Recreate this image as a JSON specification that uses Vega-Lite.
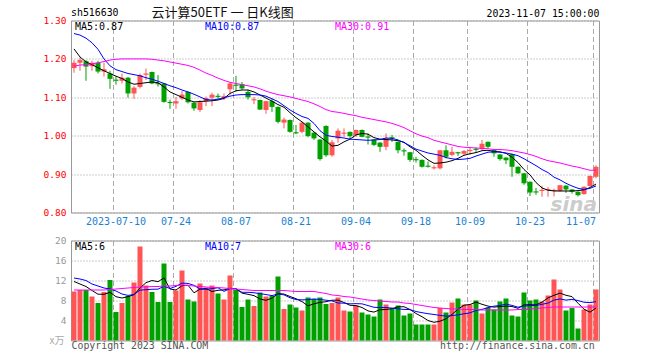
{
"$schema": "https://vega.github.io/schema/vega-lite/v6.json",
"background": "white",
"autosize": {"type": "pad"},
"padding": {"left": 42, "top": 5.5, "right": 2, "bottom": 2},
"config": {
  "view": {"stroke": "#999999", "strokeWidth": 1},
  "axis": {"labelFont": "DejaVu Sans Mono", "titleFont": "DejaVu Sans Mono", "labelOverlap": false},
  "axisY": {"labelOverlap": false},
  "legend": {"labelFont": "DejaVu Sans Mono"}
},
"title": {"text": "2023-11-07 15:00:00", "anchor": "end", "font": "DejaVu Sans Mono", "fontSize": 9.9, "fontWeight": "normal", "color": "#000000", "offset": 0, "dy": 13},
"bounds": "flush",
"spacing": 28,
"resolve": {"scale": {"color": "independent", "y": "independent"}, "legend": {"color": "independent"}},
"datasets": {"k": [
{"d":"2023-06-29","o":1.176,"h":1.197,"l":1.164,"c":1.190,"v":9.8,"m5":1.226,"m10":1.266,"m30":1.181,"v5":11.8,"v10":12.5,"v30":10.1},
{"d":"2023-06-30","o":1.190,"h":1.204,"l":1.169,"c":1.197,"v":10.1,"m5":1.205,"m10":1.262,"m30":1.184,"v5":11.3,"v10":12.3,"v30":10.1},
{"d":"2023-07-03","o":1.194,"h":1.197,"l":1.143,"c":1.180,"v":10.1,"m5":1.192,"m10":1.254,"m30":1.185,"v5":10.8,"v10":12.0,"v30":10.1},
{"d":"2023-07-04","o":1.181,"h":1.195,"l":1.169,"c":1.190,"v":8.8,"m5":1.185,"m10":1.242,"m30":1.187,"v5":10.0,"v10":11.3,"v30":10.1},
{"d":"2023-07-05","o":1.190,"h":1.195,"l":1.162,"c":1.167,"v":7.5,"m5":1.177,"m10":1.225,"m30":1.190,"v5":9.26,"v10":10.9,"v30":10.1},
{"d":"2023-07-06","o":1.167,"h":1.190,"l":1.154,"c":1.173,"v":9.7,"m5":1.169,"m10":1.200,"m30":1.193,"v5":9.24,"v10":10.5,"v30":10.1},
{"d":"2023-07-07","o":1.162,"h":1.169,"l":1.122,"c":1.148,"v":12.1,"m5":1.162,"m10":1.182,"m30":1.197,"v5":9.64,"v10":10.3,"v30":10.2},
{"d":"2023-07-10","o":1.146,"h":1.155,"l":1.133,"c":1.143,"v":5.7,"m5":1.155,"m10":1.172,"m30":1.199,"v5":8.76,"v10":9.9,"v30":10.3},
{"d":"2023-07-11","o":1.143,"h":1.162,"l":1.136,"c":1.151,"v":7.5,"m5":1.149,"m10":1.167,"m30":1.200,"v5":8.5,"v10":9.3,"v30":10.4},
{"d":"2023-07-12","o":1.151,"h":1.153,"l":1.099,"c":1.110,"v":8.9,"m5":1.140,"m10":1.162,"m30":1.200,"v5":8.78,"v10":9.02,"v30":10.5},
{"d":"2023-07-13","o":1.110,"h":1.129,"l":1.096,"c":1.125,"v":11.6,"m5":1.134,"m10":1.159,"m30":1.200,"v5":9.16,"v10":9.2,"v30":10.6},
{"d":"2023-07-14","o":1.127,"h":1.162,"l":1.123,"c":1.158,"v":18.8,"m5":1.136,"m10":1.156,"m30":1.200,"v5":10.5,"v10":10.07,"v30":10.7},
{"d":"2023-07-17","o":1.159,"h":1.175,"l":1.145,"c":1.162,"v":11.0,"m5":1.138,"m10":1.151,"m30":1.200,"v5":11.56,"v10":10.16,"v30":10.7},
{"d":"2023-07-18","o":1.166,"h":1.167,"l":1.134,"c":1.136,"v":9.7,"m5":1.140,"m10":1.147,"m30":1.199,"v5":12.0,"v10":10.25,"v30":10.8},
{"d":"2023-07-19","o":1.137,"h":1.158,"l":1.128,"c":1.134,"v":7.7,"m5":1.138,"m10":1.142,"m30":1.197,"v5":11.76,"v10":10.27,"v30":10.8},
{"d":"2023-07-20","o":1.136,"h":1.137,"l":1.086,"c":1.088,"v":15.4,"m5":1.127,"m10":1.136,"m30":1.195,"v5":12.52,"v10":10.84,"v30":10.9},
{"d":"2023-07-21","o":1.088,"h":1.094,"l":1.070,"c":1.085,"v":7.7,"m5":1.114,"m10":1.130,"m30":1.192,"v5":10.3,"v10":10.4,"v30":10.9},
{"d":"2023-07-24","o":1.084,"h":1.101,"l":1.070,"c":1.090,"v":10.0,"m5":1.107,"m10":1.125,"m30":1.189,"v5":10.1,"v10":10.83,"v30":11.0},
{"d":"2023-07-25","o":1.097,"h":1.116,"l":1.093,"c":1.107,"v":14.0,"m5":1.100,"m10":1.119,"m30":1.186,"v5":10.96,"v10":11.48,"v30":11.1},
{"d":"2023-07-26","o":1.114,"h":1.115,"l":1.084,"c":1.087,"v":8.2,"m5":1.093,"m10":1.114,"m30":1.183,"v5":11.06,"v10":11.41,"v30":11.0},
{"d":"2023-07-27","o":1.086,"h":1.087,"l":1.065,"c":1.071,"v":7.8,"m5":1.088,"m10":1.108,"m30":1.178,"v5":9.54,"v10":11.03,"v30":10.9},
{"d":"2023-07-28","o":1.067,"h":1.093,"l":1.062,"c":1.087,"v":11.4,"m5":1.089,"m10":1.101,"m30":1.171,"v5":10.28,"v10":10.29,"v30":10.8},
{"d":"2023-07-31","o":1.090,"h":1.102,"l":1.077,"c":1.098,"v":10.6,"m5":1.090,"m10":1.094,"m30":1.163,"v5":10.4,"v10":10.25,"v30":10.7},
{"d":"2023-08-01","o":1.099,"h":1.112,"l":1.077,"c":1.107,"v":11.0,"m5":1.091,"m10":1.093,"m30":1.157,"v5":9.8,"v10":10.38,"v30":10.6},
{"d":"2023-08-02","o":1.104,"h":1.110,"l":1.095,"c":1.101,"v":9.4,"m5":1.093,"m10":1.095,"m30":1.150,"v5":10.04,"v10":10.55,"v30":10.6},
{"d":"2023-08-03","o":1.097,"h":1.110,"l":1.093,"c":1.103,"v":8.2,"m5":1.097,"m10":1.099,"m30":1.144,"v5":10.12,"v10":9.83,"v30":10.5},
{"d":"2023-08-04","o":1.121,"h":1.140,"l":1.107,"c":1.136,"v":13.0,"m5":1.110,"m10":1.103,"m30":1.139,"v5":10.44,"v10":10.36,"v30":10.4},
{"d":"2023-08-07","o":1.133,"h":1.156,"l":1.115,"c":1.130,"v":10.1,"m5":1.117,"m10":1.106,"m30":1.136,"v5":10.34,"v10":10.37,"v30":10.3},
{"d":"2023-08-08","o":1.134,"h":1.140,"l":1.119,"c":1.123,"v":6.7,"m5":1.119,"m10":1.107,"m30":1.133,"v5":9.48,"v10":9.64,"v30":10.2},
{"d":"2023-08-09","o":1.114,"h":1.120,"l":1.094,"c":1.100,"v":8.2,"m5":1.119,"m10":1.107,"m30":1.130,"v5":9.24,"v10":9.64,"v30":10.1},
{"d":"2023-08-10","o":1.092,"h":1.101,"l":1.082,"c":1.095,"v":6.9,"m5":1.114,"m10":1.107,"m30":1.127,"v5":8.98,"v10":9.55,"v30":10.0},
{"d":"2023-08-11","o":1.093,"h":1.094,"l":1.067,"c":1.068,"v":9.6,"m5":1.106,"m10":1.106,"m30":1.122,"v5":8.3,"v10":9.37,"v30":10.0},
{"d":"2023-08-14","o":1.067,"h":1.090,"l":1.057,"c":1.090,"v":8.8,"m5":1.098,"m10":1.103,"m30":1.116,"v5":8.04,"v10":9.19,"v30":10.0},
{"d":"2023-08-15","o":1.090,"h":1.097,"l":1.062,"c":1.075,"v":8.9,"m5":1.090,"m10":1.096,"m30":1.111,"v5":8.48,"v10":8.98,"v30":10.0},
{"d":"2023-08-16","o":1.075,"h":1.076,"l":1.032,"c":1.036,"v":12.8,"m5":1.081,"m10":1.089,"m30":1.107,"v5":9.4,"v10":9.32,"v30":10.0},
{"d":"2023-08-17","o":1.034,"h":1.047,"l":1.019,"c":1.042,"v":6.3,"m5":1.074,"m10":1.078,"m30":1.104,"v5":9.28,"v10":9.13,"v30":10.0},
{"d":"2023-08-18","o":1.041,"h":1.042,"l":1.008,"c":1.010,"v":7.2,"m5":1.060,"m10":1.067,"m30":1.101,"v5":8.8,"v10":8.55,"v30":9.9},
{"d":"2023-08-21","o":1.009,"h":1.028,"l":1.004,"c":1.006,"v":6.6,"m5":1.047,"m10":1.058,"m30":1.097,"v5":8.36,"v10":8.2,"v30":9.8},
{"d":"2023-08-22","o":1.010,"h":1.036,"l":1.006,"c":1.034,"v":6.0,"m5":1.036,"m10":1.050,"m30":1.093,"v5":7.78,"v10":8.13,"v30":9.8},
{"d":"2023-08-23","o":1.034,"h":1.035,"l":0.996,"c":0.999,"v":8.6,"m5":1.023,"m10":1.045,"m30":1.089,"v5":6.94,"v10":8.17,"v30":9.8},
{"d":"2023-08-24","o":1.008,"h":1.009,"l":0.989,"c":0.993,"v":8.3,"m5":1.010,"m10":1.032,"m30":1.083,"v5":7.34,"v10":8.31,"v30":9.8},
{"d":"2023-08-25","o":0.990,"h":0.991,"l":0.935,"c":0.939,"v":8.6,"m5":0.997,"m10":1.013,"m30":1.076,"v5":7.62,"v10":8.21,"v30":9.6},
{"d":"2023-08-28","o":1.025,"h":1.027,"l":0.945,"c":0.949,"v":7.3,"m5":0.986,"m10":1.001,"m30":1.068,"v5":7.76,"v10":8.06,"v30":9.4},
{"d":"2023-08-29","o":0.949,"h":0.989,"l":0.945,"c":0.983,"v":7.5,"m5":0.973,"m10":0.998,"m30":1.063,"v5":8.06,"v10":7.92,"v30":9.1},
{"d":"2023-08-30","o":0.993,"h":1.019,"l":0.982,"c":1.013,"v":8.6,"m5":0.975,"m10":0.996,"m30":1.061,"v5":8.06,"v10":7.5,"v30":9.0},
{"d":"2023-08-31","o":1.005,"h":1.019,"l":0.997,"c":1.008,"v":6.0,"m5":0.984,"m10":0.994,"m30":1.058,"v5":7.6,"v10":7.47,"v30":8.8},
{"d":"2023-09-01","o":1.010,"h":1.011,"l":0.990,"c":0.999,"v":5.8,"m5":0.991,"m10":0.991,"m30":1.055,"v5":7.04,"v10":7.33,"v30":8.7},
{"d":"2023-09-04","o":1.002,"h":1.016,"l":0.997,"c":1.015,"v":7.0,"m5":1.002,"m10":0.990,"m30":1.052,"v5":6.98,"v10":7.37,"v30":8.5},
{"d":"2023-09-05","o":1.015,"h":1.016,"l":0.996,"c":0.997,"v":5.6,"m5":1.006,"m10":0.989,"m30":1.048,"v5":6.6,"v10":7.33,"v30":8.3},
{"d":"2023-09-06","o":0.998,"h":1.006,"l":0.977,"c":0.995,"v":5.2,"m5":1.004,"m10":0.988,"m30":1.045,"v5":5.92,"v10":6.99,"v30":8.1},
{"d":"2023-09-07","o":0.990,"h":0.991,"l":0.973,"c":0.976,"v":4.8,"m5":0.995,"m10":0.989,"m30":1.042,"v5":5.68,"v10":6.64,"v30":8.0},
{"d":"2023-09-08","o":0.982,"h":0.983,"l":0.958,"c":0.971,"v":8.2,"m5":0.991,"m10":0.990,"m30":1.039,"v5":6.16,"v10":6.6,"v30":7.9},
{"d":"2023-09-11","o":0.971,"h":1.006,"l":0.962,"c":0.993,"v":7.2,"m5":0.990,"m10":0.994,"m30":1.036,"v5":6.2,"v10":6.59,"v30":7.8},
{"d":"2023-09-12","o":0.996,"h":1.002,"l":0.984,"c":0.993,"v":6.4,"m5":0.989,"m10":0.993,"m30":1.032,"v5":6.36,"v10":6.48,"v30":7.7},
{"d":"2023-09-13","o":0.984,"h":0.985,"l":0.954,"c":0.962,"v":7.0,"m5":0.987,"m10":0.989,"m30":1.027,"v5":6.72,"v10":6.32,"v30":7.7},
{"d":"2023-09-14","o":0.962,"h":0.967,"l":0.948,"c":0.959,"v":5.0,"m5":0.983,"m10":0.982,"m30":1.021,"v5":6.76,"v10":6.22,"v30":7.5},
{"d":"2023-09-15","o":0.957,"h":0.958,"l":0.932,"c":0.937,"v":5.4,"m5":0.971,"m10":0.974,"m30":1.013,"v5":6.2,"v10":6.18,"v30":7.4},
{"d":"2023-09-18","o":0.939,"h":0.945,"l":0.930,"c":0.936,"v":3.2,"m5":0.962,"m10":0.965,"m30":1.005,"v5":5.4,"v10":5.8,"v30":7.2},
{"d":"2023-09-19","o":0.937,"h":0.938,"l":0.917,"c":0.919,"v":3.2,"m5":0.949,"m10":0.960,"m30":0.999,"v5":4.76,"v10":5.56,"v30":7.0},
{"d":"2023-09-20","o":0.922,"h":0.933,"l":0.917,"c":0.919,"v":3.2,"m5":0.937,"m10":0.955,"m30":0.995,"v5":4.0,"v10":5.36,"v30":6.8},
{"d":"2023-09-21","o":0.915,"h":0.923,"l":0.912,"c":0.918,"v":3.2,"m5":0.928,"m10":0.952,"m30":0.988,"v5":3.64,"v10":5.2,"v30":6.6},
{"d":"2023-09-22","o":0.915,"h":0.963,"l":0.912,"c":0.962,"v":6.5,"m5":0.929,"m10":0.949,"m30":0.984,"v5":3.86,"v10":5.03,"v30":6.5},
{"d":"2023-09-25","o":0.962,"h":0.975,"l":0.941,"c":0.945,"v":5.6,"m5":0.931,"m10":0.943,"m30":0.980,"v5":4.34,"v10":4.87,"v30":6.4},
{"d":"2023-09-26","o":0.950,"h":0.971,"l":0.946,"c":0.958,"v":7.6,"m5":0.935,"m10":0.940,"m30":0.976,"v5":5.22,"v10":4.99,"v30":6.3},
{"d":"2023-09-27","o":0.957,"h":0.958,"l":0.947,"c":0.954,"v":8.4,"m5":0.941,"m10":0.938,"m30":0.972,"v5":6.26,"v10":5.13,"v30":6.3},
{"d":"2023-09-28","o":0.953,"h":0.963,"l":0.949,"c":0.960,"v":7.2,"m5":0.949,"m10":0.939,"m30":0.970,"v5":7.06,"v10":5.35,"v30":6.2},
{"d":"2023-10-09","o":0.960,"h":0.969,"l":0.950,"c":0.963,"v":7.2,"m5":0.953,"m10":0.941,"m30":0.969,"v5":7.2,"v10":5.53,"v30":6.2},
{"d":"2023-10-10","o":0.966,"h":0.969,"l":0.955,"c":0.963,"v":8.0,"m5":0.956,"m10":0.947,"m30":0.968,"v5":7.68,"v10":6.01,"v30":6.2},
{"d":"2023-10-11","o":0.965,"h":0.989,"l":0.962,"c":0.979,"v":5.4,"m5":0.961,"m10":0.952,"m30":0.967,"v5":7.24,"v10":6.23,"v30":6.1},
{"d":"2023-10-12","o":0.984,"h":0.985,"l":0.968,"c":0.971,"v":6.6,"m5":0.962,"m10":0.957,"m30":0.966,"v5":6.88,"v10":6.57,"v30":6.1},
{"d":"2023-10-13","o":0.963,"h":0.964,"l":0.945,"c":0.954,"v":6.2,"m5":0.959,"m10":0.958,"m30":0.964,"v5":6.68,"v10":6.87,"v30":6.1},
{"d":"2023-10-16","o":0.951,"h":0.952,"l":0.935,"c":0.939,"v":7.8,"m5":0.958,"m10":0.957,"m30":0.964,"v5":6.8,"v10":7.0,"v30":6.1},
{"d":"2023-10-17","o":0.943,"h":0.944,"l":0.926,"c":0.936,"v":8.4,"m5":0.954,"m10":0.955,"m30":0.963,"v5":6.88,"v10":7.28,"v30":6.1},
{"d":"2023-10-18","o":0.952,"h":0.953,"l":0.893,"c":0.919,"v":5.0,"m5":0.944,"m10":0.952,"m30":0.961,"v5":6.8,"v10":7.02,"v30":6.1},
{"d":"2023-10-19","o":0.919,"h":0.920,"l":0.900,"c":0.902,"v":4.8,"m5":0.930,"m10":0.948,"m30":0.958,"v5":6.44,"v10":6.66,"v30":6.2},
{"d":"2023-10-20","o":0.902,"h":0.903,"l":0.872,"c":0.876,"v":9.6,"m5":0.912,"m10":0.940,"m30":0.955,"v5":7.12,"v10":6.9,"v30":6.2},
{"d":"2023-10-23","o":0.880,"h":0.881,"l":0.843,"c":0.852,"v":8.0,"m5":0.898,"m10":0.931,"m30":0.951,"v5":7.16,"v10":6.98,"v30":6.3},
{"d":"2023-10-24","o":0.855,"h":0.864,"l":0.846,"c":0.852,"v":8.2,"m5":0.878,"m10":0.922,"m30":0.946,"v5":7.12,"v10":7.0,"v30":6.4},
{"d":"2023-10-25","o":0.856,"h":0.870,"l":0.841,"c":0.859,"v":7.8,"m5":0.864,"m10":0.912,"m30":0.940,"v5":7.68,"v10":7.24,"v30":6.5},
{"d":"2023-10-26","o":0.858,"h":0.866,"l":0.841,"c":0.861,"v":9.0,"m5":0.858,"m10":0.904,"m30":0.935,"v5":8.52,"v10":7.48,"v30":6.6},
{"d":"2023-10-27","o":0.856,"h":0.862,"l":0.842,"c":0.859,"v":12.2,"m5":0.856,"m10":0.892,"m30":0.932,"v5":9.04,"v10":8.08,"v30":6.7},
{"d":"2023-10-30","o":0.856,"h":0.872,"l":0.854,"c":0.871,"v":10.2,"m5":0.856,"m10":0.885,"m30":0.929,"v5":9.48,"v10":8.32,"v30":6.7},
{"d":"2023-10-31","o":0.870,"h":0.871,"l":0.851,"c":0.860,"v":6.0,"m5":0.856,"m10":0.876,"m30":0.925,"v5":9.04,"v10":8.08,"v30":6.7},
{"d":"2023-11-01","o":0.860,"h":0.861,"l":0.849,"c":0.854,"v":6.5,"m5":0.856,"m10":0.869,"m30":0.921,"v5":8.78,"v10":8.23,"v30":6.7},
{"d":"2023-11-02","o":0.854,"h":0.855,"l":0.842,"c":0.845,"v":2.4,"m5":0.857,"m10":0.863,"m30":0.918,"v5":7.46,"v10":7.99,"v30":6.7},
{"d":"2023-11-03","o":0.848,"h":0.868,"l":0.846,"c":0.867,"v":6.2,"m5":0.859,"m10":0.860,"m30":0.914,"v5":6.26,"v10":7.65,"v30":6.7},
{"d":"2023-11-06","o":0.869,"h":0.897,"l":0.867,"c":0.895,"v":7.2,"m5":0.865,"m10":0.863,"m30":0.910,"v5":5.66,"v10":7.57,"v30":6.7},
{"d":"2023-11-07","o":0.893,"h":0.923,"l":0.889,"c":0.919,"v":10.2,"m5":0.874,"m10":0.869,"m30":0.910,"v5":6.5,"v10":7.77,"v30":6.7}
]},
"vconcat": [
{
  "width": 528,
  "height": 192,
  "data": {"name": "k"},
  "title": {"text": "sh516630", "anchor": "start", "frame": "group", "font": "DejaVu Sans Mono", "fontSize": 9.9, "fontWeight": "normal", "color": "#000000", "offset": 2, "dy": 13.5},
  "resolve": {"axis": {"y": "independent"}},
  "encoding": {
    "x": {"field": "d", "type": "ordinal", "scale": {"type": "band", "paddingInner": 0.1667, "paddingOuter": 0.0833},
      "axis": {"values": ["2023-07-10","2023-07-24","2023-08-07","2023-08-21","2023-09-04","2023-09-18","2023-10-09","2023-10-23","2023-11-07"],
        "bandPosition": 0, "labelExpr": "datum.value == '2023-07-10' ? datum.value : slice(datum.value, 5)",
        "labelAlign": {"condition": {"test": "datum.value == '2023-11-07'", "value": "right"}, "value": "center"},
        "labelAngle": 0, "labelColor": "#1a82d0", "labelFont": "DejaVu Sans Mono", "labelFontSize": 10, "labelPadding": 4,
        "labelFlush": false, "labelOverlap": false, "ticks": false, "domain": false,
        "grid": true, "gridColor": "#aaaaaa", "gridDash": [5, 3], "gridWidth": 1,
        "title": "sina", "titleX": 479, "titleY": -2.5, "titleAlign": "left", "titleBaseline": "alphabetic",
        "titleFont": "DejaVu Sans", "titleFontSize": 20, "titleFontStyle": "italic", "titleFontWeight": "bold", "titleColor": "#cccccc"}}
  },
  "layer": [
    {"mark": {"type": "rule", "strokeWidth": 1},
     "encoding": {
       "y": {"field": "l", "type": "quantitative", "scale": {"domain": [0.8, 1.3], "zero": false, "nice": false},
         "axis": {"values": [0.8, 0.9, 1.0, 1.1, 1.2, 1.3], "format": ".2f", "labelColor": "#ff0000", "labelFont": "DejaVu Sans Mono", "labelFontSize": 9.5, "labelPadding": 5, "labelFlush": false, "labelOverlap": false,
           "ticks": false, "domain": false, "grid": true, "gridColor": "#999999", "gridDash": [1, 2],
           "title": "云计算50ETF 一 日K线图", "titleAngle": 0, "titleX": 80, "titleY": -4, "titleAlign": "left", "titleBaseline": "alphabetic",
           "titleFont": "Noto Sans CJK SC", "titleFontSize": 13, "titleFontWeight": "normal", "titleColor": "#111111"}},
       "y2": {"field": "h"},
       "color": {"condition": {"test": "datum.c >= datum.o", "value": "#ff5555"}, "value": "#00a000"}
     }},
    {"mark": {"type": "bar"},
     "encoding": {
       "y": {"field": "o", "type": "quantitative", "scale": {"domain": [0.8, 1.3], "zero": false, "nice": false}, "axis": null},
       "y2": {"field": "c"},
       "color": {"condition": {"test": "datum.c >= datum.o", "value": "#ff5555"}, "value": "#00a000"}
     }},
    {"transform": [{"fold": ["m5", "m10", "m30"], "as": ["s", "val"]}],
     "mark": {"type": "line", "strokeWidth": 1},
     "encoding": {
       "y": {"field": "val", "type": "quantitative", "scale": {"domain": [0.8, 1.3], "zero": false, "nice": false}, "axis": null},
       "color": {"field": "s", "type": "nominal", "scale": {"domain": ["m5", "m10", "m30"], "range": ["#000000", "#0000ff", "#ff00ff"]},
         "legend": {"orient": "none", "legendX": -6, "legendY": 1, "direction": "horizontal", "columns": 3, "gridAlign": "all", "columnPadding": 65,
           "title": null, "labelExpr": "datum.value == 'm5' ? 'MA5:0.87' : datum.value == 'm10' ? 'MA10:0.87' : 'MA30:0.91'",
           "labelFont": "DejaVu Sans Mono", "labelFontSize": 10, "labelLimit": 200,
           "labelColor": {"expr": "datum.value == 'm5' ? '#000000' : datum.value == 'm10' ? '#0000ff' : '#ff00ff'"},
           "symbolSize": 0, "symbolOpacity": 0, "symbolStrokeWidth": 0, "labelOffset": 0, "symbolType": "square"}}
     }}
  ]
},
{
  "width": 528,
  "height": 100,
  "data": {"name": "k"},
  "resolve": {"axis": {"y": "independent"}},
  "encoding": {
    "x": {"field": "d", "type": "ordinal", "scale": {"type": "band", "paddingInner": 0.1667, "paddingOuter": 0.0833},
      "axis": {"values": ["2023-07-10","2023-07-24","2023-08-07","2023-08-21","2023-09-04","2023-09-18","2023-10-09","2023-10-23","2023-11-07"],
        "bandPosition": 0, "labels": false, "ticks": false, "domain": false,
        "grid": true, "gridColor": "#aaaaaa", "gridDash": [5, 3], "gridWidth": 1,
        "title": "Copyright 2023 SINA.COM\u00a0\u00a0\u00a0\u00a0\u00a0\u00a0\u00a0\u00a0\u00a0\u00a0\u00a0\u00a0\u00a0\u00a0\u00a0\u00a0\u00a0\u00a0\u00a0\u00a0\u00a0\u00a0\u00a0\u00a0\u00a0\u00a0\u00a0\u00a0\u00a0\u00a0\u00a0\u00a0\u00a0\u00a0\u00a0\u00a0\u00a0\u00a0\u00a0http://finance.sina.com.cn",
        "titleAnchor": "start", "titleAlign": "left", "titleFont": "DejaVu Sans Mono", "titleFontSize": 9.9, "titleFontWeight": "normal", "titleColor": "#555555", "titlePadding": 0}}
  },
  "layer": [
    {"mark": {"type": "bar"},
     "encoding": {
       "y": {"field": "v", "type": "quantitative", "scale": {"domain": [0, 20], "nice": false},
         "axis": {"values": [4, 8, 12, 16, 20], "labelColor": "#999999", "labelFont": "DejaVu Sans Mono", "labelFontSize": 9.5, "labelPadding": 5, "labelFlush": false, "labelOverlap": false,
           "ticks": false, "domain": false, "grid": true, "gridColor": "#999999", "gridDash": [1, 2],
           "title": "x万", "titleAngle": 0, "titleAlign": "right", "titleBaseline": "alphabetic", "titleX": -7, "titleY": 103,
           "titleFont": "Noto Sans CJK SC", "titleFontSize": 10, "titleFontWeight": "normal", "titleColor": "#aaaaaa"}},
       "color": {"condition": {"test": "datum.c >= datum.o", "value": "#ff5555"}, "value": "#00a000"}
     }},
    {"transform": [{"fold": ["v5", "v10", "v30"], "as": ["s", "val"]}],
     "mark": {"type": "line", "strokeWidth": 1},
     "encoding": {
       "y": {"field": "val", "type": "quantitative", "scale": {"domain": [0, 20], "nice": false}, "axis": null},
       "color": {"field": "s", "type": "nominal", "scale": {"domain": ["v5", "v10", "v30"], "range": ["#000000", "#0000ff", "#ff00ff"]},
         "legend": {"orient": "none", "legendX": -6, "legendY": 1, "direction": "horizontal", "columns": 3, "gridAlign": "all", "columnPadding": 83,
           "title": null, "labelExpr": "datum.value == 'v5' ? 'MA5:6' : datum.value == 'v10' ? 'MA10:7' : 'MA30:6'",
           "labelFont": "DejaVu Sans Mono", "labelFontSize": 10, "labelLimit": 200,
           "labelColor": {"expr": "datum.value == 'v5' ? '#000000' : datum.value == 'v10' ? '#0000ff' : '#ff00ff'"},
           "symbolSize": 0, "symbolOpacity": 0, "symbolStrokeWidth": 0, "labelOffset": 0, "symbolType": "square"}}
     }}
  ]
}
]
}
